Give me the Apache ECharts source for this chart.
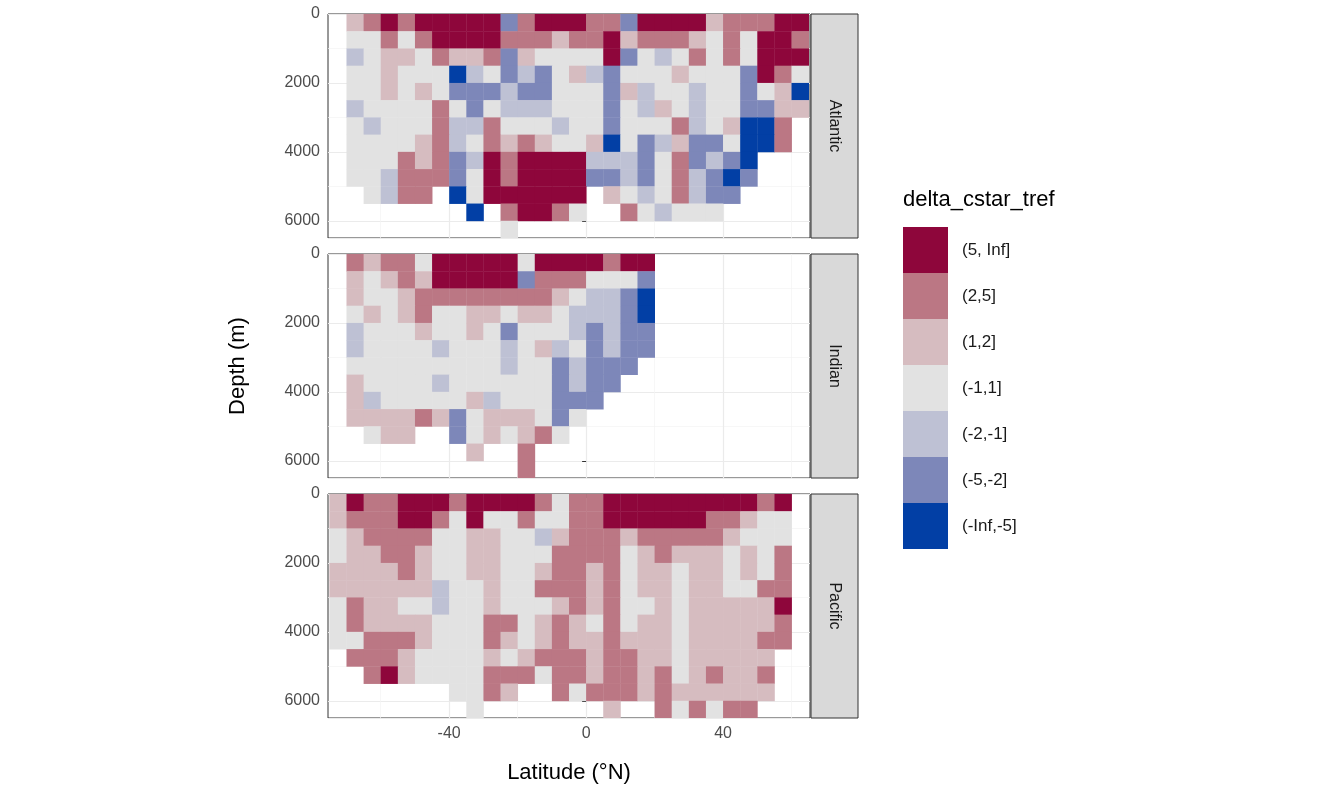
<!DOCTYPE html>
<html>
<head>
<meta charset="utf-8">
<script src="https://cdn.jsdelivr.net/npm/echarts@6/dist/echarts.min.js"></script>
<style>html,body{margin:0;background:#fff}#chart{width:1344px;height:806px}</style>
</head>
<body>
<div id="chart"></div>
<script>
// class codes per cell: 0 = no data, 1..7 = bins below; one string per 500 m depth row, 28 lat columns (-75..65 by 5)
var classLabels = ['(-Inf,-5]', '(-5,-2]', '(-2,-1]', '(-1,1]', '(1,2]', '(2,5]', '(5, Inf]'];
var classColors = ['#023FA5', '#7D87B9', '#BEC1D4', '#E2E2E2', '#D6BCC0', '#BB7784', '#8E063B'];
var basins = ['Atlantic', 'Indian', 'Pacific'];
var latCenters = [];
for (var i = 0; i < 28; i++) latCenters.push(-72.5 + 5 * i);
var depthCenters = [];
for (var j = 0; j < 13; j++) depthCenters.push(250 + 500 * j);

var atlantic = [
  '0567677777267776627777566677',
  '0446467777666566756665464776',
  '0345546556254444724346464777',
  '0445444134232453244454442764',
  '0445454222322444253443442451',
  '0344446424333444243543442255',
  '0434446336444344244463451160',
  '0444456346565445142352241160',
  '0444656237677773332462321000',
  '0443666247677772232463212000',
  '0043660147777770543463220000',
  '0000000010677640064344400000',
  '0000000000400000000000000000'
];
var indian = [
  '0656647777747777677000000000',
  '0545657777726664442000000000',
  '0544566666666543321000000000',
  '0454564455455433321000000000',
  '0344454454244432322000000000',
  '0344443444345342322000000000',
  '0444444444344232220000000000',
  '0544443444444232200000000000',
  '0534444453444222000000000000',
  '0555565245554240000000000000',
  '0045500245456400000000000000',
  '0000000050060000000000000000',
  '0000000000060000000000000000'
];
var pacific = [
  '5766777677776466777777777670',
  '5666776474464466777777665440',
  '4566664455443566656666654440',
  '4556654455444666645655545460',
  '5555654455445665645545545460',
  '5555553445446665645545544660',
  '4655443445444565644545555570',
  '4655554446645654645545555560',
  '4466654446545655655545555660',
  '0666544445456665665545555500',
  '0067544446664665665645655600',
  '0000000446500646665655555500',
  '0000000040000000500646466000'
];
var basinRows = [atlantic, indian, pacific];

var chart = echarts.init(document.getElementById('chart'));
var panelTops = [14, 254, 494];
var panelH = 224, panelLeft = 328, panelW = 482;
var grids = [], xAxes = [], yAxes = [], series = [], graphics = [];
var labelStyle = {color: '#4D4D4D', fontSize: 16, fontFamily: 'Liberation Sans, Arial'};

basins.forEach(function (name, b) {
  grids.push({left: panelLeft, top: panelTops[b], width: panelW, height: panelH,
    show: true, borderColor: '#333', borderWidth: 1, backgroundColor: 'transparent'});
  var bottom = b === 2;
  // major axis
  xAxes.push({type: 'value', gridIndex: b, min: -75.4, max: 65.4, position: 'bottom',
    axisLine: {show: false},
    axisTick: {show: bottom, customValues: [-40, 0, 40], length: 4, lineStyle: {color: '#333'}},
    axisLabel: {show: bottom, customValues: [-40, 0, 40], margin: 8, ...labelStyle},
    splitLine: {show: true, lineStyle: {color: '#EBEBEB', width: 1.2}}});
  // minor grid lines
  xAxes.push({type: 'value', gridIndex: b, min: -75.4, max: 65.4, position: 'bottom',
    axisLine: {show: false}, axisLabel: {show: false},
    axisTick: {show: false, customValues: [-60, -20, 20, 60]},
    splitLine: {show: true, lineStyle: {color: '#F3F3F3', width: 0.7}}});
  yAxes.push({type: 'value', gridIndex: b, min: 0, max: 6500, inverse: true, interval: 2000,
    axisLine: {show: false},
    axisTick: {show: true, length: 4, lineStyle: {color: '#333'}},
    axisLabel: {margin: 8, ...labelStyle, showMaxLabel: false,
      formatter: function (v) { return String(v); }},
    splitLine: {show: true, lineStyle: {color: '#EBEBEB', width: 1.2}}});
  yAxes.push({type: 'value', gridIndex: b, min: 0, max: 6500, inverse: true,
    axisLine: {show: false}, axisLabel: {show: false},
    axisTick: {show: false, customValues: [1000, 3000, 5000]},
    splitLine: {show: true, lineStyle: {color: '#F3F3F3', width: 0.7}}});

  var data = [];
  basinRows[b].forEach(function (row, r) {
    for (var c = 0; c < row.length; c++) {
      var code = +row[c];
      if (code > 0) data.push([latCenters[c], depthCenters[r], code]);
    }
  });
  series.push({type: 'custom', xAxisIndex: 2 * b, yAxisIndex: 2 * b, data: data, silent: true,
    clip: true,
    renderItem: function (params, api) {
      var p0 = api.coord([api.value(0) - 2.5, api.value(1) - 250]);
      var p1 = api.coord([api.value(0) + 2.5, api.value(1) + 250]);
      return {type: 'rect',
        shape: {x: p0[0], y: p0[1], width: p1[0] - p0[0] + 0.4, height: p1[1] - p0[1] + 0.4},
        style: {fill: api.visual('color')}};
    }});

  // facet strip
  graphics.push({type: 'rect', shape: {x: 811, y: panelTops[b], width: 47, height: panelH},
    style: {fill: '#D9D9D9', stroke: '#333', lineWidth: 1}});
  graphics.push({type: 'text', x: 834, y: panelTops[b] + panelH / 2, rotation: -Math.PI / 2,
    style: {text: name, fill: '#1A1A1A', fontSize: 16, fontFamily: 'Liberation Sans, Arial',
      align: 'center', verticalAlign: 'middle'}});
});

graphics.push({type: 'text', x: 238, y: 366, rotation: Math.PI / 2,
  style: {text: 'Depth (m)', fill: '#000', fontSize: 22, fontFamily: 'Liberation Sans, Arial',
    align: 'center', verticalAlign: 'middle'}});
graphics.push({type: 'text', x: 569, y: 773,
  style: {text: 'Latitude (°N)', fill: '#000', fontSize: 22, fontFamily: 'Liberation Sans, Arial',
    align: 'center', verticalAlign: 'middle'}});
graphics.push({type: 'text', x: 903, y: 200,
  style: {text: 'delta_cstar_tref', fill: '#000', fontSize: 22, fontFamily: 'Liberation Sans, Arial',
    align: 'left', verticalAlign: 'middle'}});

var pieces = classLabels.map(function (l, k) { return {value: k + 1, label: l, color: classColors[k]}; });
chart.setOption({
  animation: false,
  grid: grids, xAxis: xAxes, yAxis: yAxes, series: series, graphic: graphics,
  visualMap: {type: 'piecewise', dimension: 2, seriesIndex: [0, 1, 2],
    left: 898, top: 222, orient: 'vertical', itemWidth: 45, itemHeight: 46, itemGap: 0,
    itemSymbol: 'rect', selectedMode: false, hoverLink: false, textGap: 14, align: 'left',
    padding: 5,
    textStyle: {color: '#1A1A1A', fontSize: 17, fontFamily: 'Liberation Sans, Arial'},
    pieces: pieces.slice().reverse()}
});
</script>
</body>
</html>
